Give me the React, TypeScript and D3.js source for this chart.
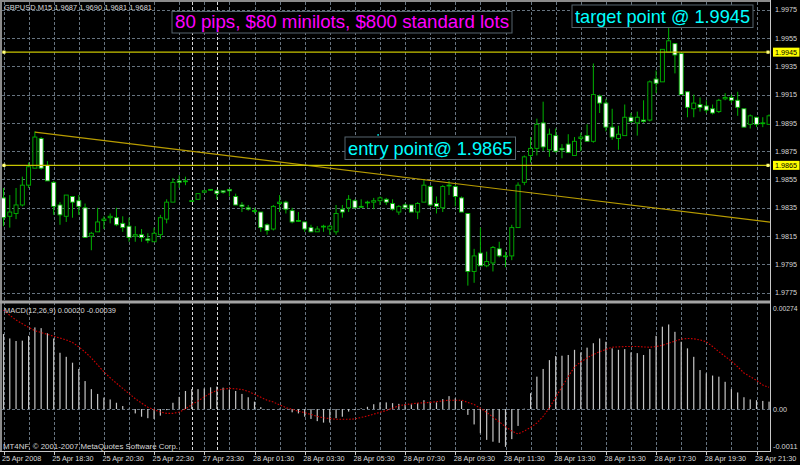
import React from 'react';
import * as d3 from 'd3';

// ---------- data ----------
const opens = [1.9842,1.9829,1.9831,1.9837,1.9851,1.9863,1.9884,1.9865,1.9853,1.9837,1.9829,1.9843,1.9840,1.9835,1.9815,1.9818,1.9826,1.9828,1.9828,1.9824,1.9822,1.9815,1.9816,1.9813,1.9811,1.9816,1.9827,1.9839,1.9854,1.9854,1.9840,1.9841,1.9846,1.9848,1.9847,1.9847,1.9848,1.9843,1.9837,1.9835,1.9833,1.9832,1.9823,1.9820,1.9838,1.9839,1.9833,1.9826,1.9825,1.9821,1.9818,1.9822,1.9820,1.9818,1.9834,1.9835,1.9840,1.9836,1.9839,1.9839,1.9840,1.9841,1.9838,1.9832,1.9837,1.9837,1.9832,1.9839,1.9850,1.9838,1.9835,1.9851,1.9850,1.9842,1.9831,1.9790,1.9803,1.9794,1.9796,1.9806,1.9801,1.9801,1.9821,1.9853,1.9872,1.9877,1.9895,1.9876,1.9886,1.9877,1.9880,1.9872,1.9884,1.9886,1.9882,1.9914,1.9909,1.9892,1.9884,1.9886,1.9899,1.9895,1.9897,1.9897,1.9926,1.9924,1.9945,1.9951,1.9944,1.9917,1.9905,1.9908,1.9907,1.9905,1.9903,1.9912,1.9913,1.9911,1.9905,1.9894,1.9899,1.9895,1.9894];
const highs = [1.9849,1.9844,1.9849,1.9857,1.9867,1.9889,1.9885,1.9868,1.9854,1.9839,1.9844,1.9843,1.9844,1.9838,1.9818,1.9835,1.9829,1.9831,1.9835,1.9829,1.9828,1.9822,1.9820,1.9817,1.9821,1.9830,1.9841,1.9856,1.9858,1.9857,1.9840,1.9845,1.9847,1.9848,1.9848,1.9847,1.9848,1.9845,1.9839,1.9837,1.9835,1.9832,1.9824,1.9837,1.9844,1.9840,1.9835,1.9832,1.9825,1.9823,1.9822,1.9823,1.9823,1.9837,1.9837,1.9844,1.9841,1.9841,1.9840,1.9842,1.9843,1.9842,1.9841,1.9837,1.9838,1.9837,1.9839,1.9855,1.9851,1.9843,1.9851,1.9854,1.9851,1.9843,1.9831,1.9806,1.9821,1.9804,1.9808,1.9811,1.9804,1.9823,1.9853,1.9872,1.9885,1.9898,1.9910,1.9891,1.9891,1.9880,1.9887,1.9885,1.9888,1.9894,1.9937,1.9915,1.9912,1.9905,1.9893,1.9908,1.9902,1.9903,1.9911,1.9925,1.9932,1.9947,1.9965,1.9951,1.9944,1.9917,1.9915,1.9913,1.9911,1.9908,1.9912,1.9916,1.9915,1.9917,1.9905,1.9901,1.9899,1.9899,1.9901];
const lows = [1.9822,1.9821,1.9827,1.9836,1.9849,1.9863,1.9862,1.9854,1.9830,1.9823,1.9825,1.9828,1.9830,1.9814,1.9805,1.9818,1.9820,1.9824,1.9822,1.9818,1.9811,1.9811,1.9811,1.9810,1.9811,1.9813,1.9824,1.9839,1.9849,1.9851,1.9840,1.9841,1.9846,1.9847,1.9841,1.9845,1.9843,1.9837,1.9832,1.9833,1.9831,1.9818,1.9816,1.9819,1.9832,1.9831,1.9824,1.9825,1.9818,1.9818,1.9818,1.9818,1.9816,1.9816,1.9828,1.9832,1.9835,1.9835,1.9835,1.9834,1.9837,1.9837,1.9833,1.9830,1.9834,1.9832,1.9827,1.9839,1.9836,1.9831,1.9832,1.9844,1.9836,1.9832,1.9780,1.9782,1.9794,1.9793,1.9790,1.9800,1.9793,1.9798,1.9821,1.9851,1.9867,1.9872,1.9875,1.9871,1.9874,1.9870,1.9874,1.9872,1.9875,1.9882,1.9881,1.9902,1.9889,1.9883,1.9876,1.9886,1.9895,1.9886,1.9895,1.9896,1.9916,1.9924,1.9945,1.9930,1.9915,1.9899,1.9899,1.9903,1.9902,1.9901,1.9902,1.9911,1.9909,1.9900,1.9892,1.9891,1.9892,1.9892,1.9894];
const closes = [1.9828,1.9832,1.9837,1.9851,1.9864,1.9885,1.9863,1.9854,1.9836,1.9830,1.9844,1.9839,1.9836,1.9814,1.9817,1.9825,1.9827,1.9829,1.9823,1.9821,1.9814,1.9816,1.9814,1.9812,1.9817,1.9828,1.9839,1.9853,1.9853,1.9854,1.9840,1.9845,1.9847,1.9848,1.9845,1.9846,1.9847,1.9837,1.9836,1.9834,1.9833,1.9821,1.9819,1.9836,1.9839,1.9834,1.9825,1.9826,1.9820,1.9818,1.9820,1.9822,1.9822,1.9831,1.9832,1.9841,1.9835,1.9836,1.9839,1.9840,1.9842,1.9839,1.9834,1.9836,1.9835,1.9832,1.9838,1.9851,1.9837,1.9836,1.9850,1.9851,1.9843,1.9832,1.9790,1.9801,1.9794,1.9797,1.9807,1.9801,1.9801,1.9821,1.9851,1.9871,1.9877,1.9894,1.9878,1.9887,1.9875,1.9876,1.9874,1.9882,1.9885,1.9882,1.9915,1.9909,1.9892,1.9885,1.9887,1.9899,1.9896,1.9899,1.9896,1.9924,1.9923,1.9947,1.9953,1.9943,1.9915,1.9906,1.9909,1.9906,1.9904,1.9902,1.9911,1.9913,1.9911,1.9906,1.9892,1.9900,1.9894,1.9895,1.9900];

// MACD main (histogram) and signal, in price units
const macdMain = [0.00204,0.00192,0.00185,0.00186,0.00199,0.00222,0.00220,0.00206,0.00192,0.00153,0.00142,0.00126,0.00109,0.00076,0.00054,0.00041,0.00031,0.00026,0.00017,0.00008,0.00001,-0.00012,-0.00021,-0.00025,-0.00027,-0.00018,-0.00003,0.00017,0.00033,0.00049,0.00054,0.00054,0.00056,0.00059,0.00061,0.00058,0.00052,0.00049,0.00041,0.00032,0.00020,0.00005,-0.00001,-0.00001,0.00001,0.00001,-0.00009,-0.00012,-0.00021,-0.00027,-0.00033,-0.00037,-0.00037,-0.00025,-0.00021,-0.00007,-0.00003,0.00002,0.00006,0.00013,0.00018,0.00018,0.00016,0.00014,0.00013,0.00013,0.00016,0.00024,0.00020,0.00018,0.00027,0.00035,0.00029,0.00022,-0.00016,-0.00042,-0.00066,-0.00084,-0.00089,-0.00092,-0.00103,-0.00082,-0.00046,0.00001,0.00043,0.00088,0.00109,0.00133,0.00144,0.00145,0.00147,0.00161,0.00154,0.00167,0.00179,0.00192,0.00183,0.00165,0.00161,0.00163,0.00154,0.00152,0.00147,0.00163,0.00199,0.00224,0.00230,0.00210,0.00183,0.00165,0.00142,0.00106,0.00097,0.00091,0.00088,0.00074,0.00054,0.00045,0.00032,0.00026,0.00024,0.00022,0.00020];
const macdSignal = [0.00269,0.00255,0.00242,0.00232,0.00222,0.00213,0.00208,0.00203,0.00198,0.00193,0.00188,0.00181,0.00169,0.00155,0.00139,0.00120,0.00101,0.00085,0.00070,0.00056,0.00042,0.00028,0.00016,0.00005,-0.00002,-0.00008,-0.00012,-0.00012,-0.00008,0.00000,0.00012,0.00022,0.00033,0.00043,0.00051,0.00054,0.00056,0.00055,0.00053,0.00048,0.00040,0.00032,0.00024,0.00019,0.00011,0.00004,-0.00001,-0.00006,-0.00010,-0.00015,-0.00020,-0.00024,-0.00026,-0.00028,-0.00028,-0.00028,-0.00027,-0.00023,-0.00019,-0.00014,-0.00009,-0.00004,0.00002,0.00009,0.00012,0.00014,0.00016,0.00017,0.00018,0.00020,0.00022,0.00024,0.00024,0.00024,0.00018,0.00012,0.00002,-0.00009,-0.00022,-0.00035,-0.00048,-0.00060,-0.00068,-0.00060,-0.00050,-0.00038,-0.00020,0.00003,0.00032,0.00060,0.00088,0.00115,0.00128,0.00139,0.00148,0.00156,0.00162,0.00168,0.00169,0.00170,0.00170,0.00170,0.00169,0.00168,0.00170,0.00173,0.00179,0.00185,0.00190,0.00192,0.00191,0.00188,0.00183,0.00170,0.00156,0.00143,0.00130,0.00115,0.00098,0.00088,0.00078,0.00065,0.00059];

const priceTicks = [1.9975,1.9955,1.9935,1.9915,1.9895,1.9875,1.9855,1.9835,1.9815,1.9795,1.9775];
const macdTicks = [0.00274, 0, -0.0011];
const macdTickLabels = ['0.00274', '0.00', '-0.0011'];
const timeLabels = ['25 Apr 2008','25 Apr 18:30','25 Apr 20:30','25 Apr 22:30','27 Apr 23:30','28 Apr 01:30','28 Apr 03:30','28 Apr 05:30','28 Apr 07:30','28 Apr 09:30','28 Apr 11:30','28 Apr 13:30','28 Apr 15:30','28 Apr 17:30','28 Apr 19:30','28 Apr 21:30'];
const timeLabelBars = [0,8,16,24,32,40,48,56,64,72,80,88,96,104,112,120];
const daySeparatorBars = [30, 34];
const entryPrice = 1.9865;
const targetPrice = 1.9945;
const trendBars = [5, 122];
const trendPrices = [1.98885, 1.9825];
const titleText = 'GBPUSD,M15  1.9687 1.9690 1.9681 1.9681';
const macdTitle = 'MACD(12,26,9) 0.00020 -0.00039';
const copyright = 'MT4NF, \u00a9 2001-2007 MetaQuotes Software Corp.';
const notes = [
  { text: '80 pips, $80 minilots, $800 standard lots', color: '#ff00ff', bar: 27.2, price: 1.99985, x0: 172, x1: 512, y0: 11.5, y1: 33 },
  { text: 'target point @ 1.9945', color: '#00ffff', bar: 93.4, price: 1.99855, x0: 572, x1: 753, y0: 5, y1: 27.5 },
  { text: 'entry point@ 1.9865', color: '#00ffff', bar: 59.7, price: 1.98865, x0: 345, x1: 515.5, y0: 137, y1: 159.5 },
];

const GREEN = '#00b400';
const GRID = '#66737f';
const LINE_Y = '#c8c400';
const FONT = "'Liberation Sans', Arial, sans-serif";

export default function App() {
  const n = opens.length;
  const x = d3.scaleLinear().domain([0, 122]).range([3.5, 3.5 + 6.275 * 122]);
  const y = d3.scaleLinear().domain([1.9775, 1.9975]).range([292.7, 9.7]);
  const ym = d3.scaleLinear().domain([0, 0.00274]).range([409, 308.3]);
  const RIGHT = 770;
  const gridBars = d3.range(0, n, 4);
  const signalLine = d3.line<number>().x((_, i) => x(i)).y(v => ym(v));

  return (
    <svg width={800} height={465} style={{ position: 'absolute', left: 0, top: 0, background: '#000' }} fontFamily={FONT}>
      <defs>
        <clipPath id="mainClip"><rect x={2} y={2} width={RIGHT - 2} height={298} /></clipPath>
        <clipPath id="macdClip"><rect x={2} y={304} width={RIGHT - 2} height={147} /></clipPath>
      </defs>
      <rect x={0} y={0} width={800} height={465} fill="#000" />

      {/* grid */}
      <g stroke={GRID} strokeWidth={1} strokeDasharray="3,2">
        {priceTicks.map(p => <line key={'h' + p} x1={2} x2={RIGHT} y1={Math.round(y(p)) + 0.5} y2={Math.round(y(p)) + 0.5} />)}
        {gridBars.map(b => <line key={'v' + b} x1={Math.round(x(b)) + 0.5} x2={Math.round(x(b)) + 0.5} y1={2} y2={451} />)}
        <line x1={2} x2={RIGHT} y1={Math.round(ym(0)) + 0.5} y2={Math.round(ym(0)) + 0.5} />
      </g>
      <g stroke="#d8d8d8" strokeWidth={1} strokeDasharray="3,2">
        {daySeparatorBars.map(b => <line key={'s' + b} x1={Math.round(x(b) - 0.1) + 0.5} x2={Math.round(x(b) - 0.1) + 0.5} y1={2} y2={451} />)}
      </g>

      {/* candles */}
      <g clipPath="url(#mainClip)">
        {opens.map((o, i) => {
          const c = closes[i];
          const top = y(Math.max(o, c));
          const bot = y(Math.min(o, c));
          const bull = c > o;
          const h = Math.max(bot - top, 0.8);
          return (
            <g key={'c' + i}>
              <line x1={x(i)} x2={x(i)} y1={y(highs[i])} y2={y(lows[i])} stroke={GREEN} strokeWidth={1} />
              <rect x={x(i) - 2} y={top} width={4} height={h} fill={bull ? '#000' : (c === o ? GREEN : '#ffffff')} stroke={GREEN} strokeWidth={0.9} />
            </g>
          );
        })}
        {(() => {
          const slope = (trendPrices[1] - trendPrices[0]) / (trendBars[1] - trendBars[0]);
          const endBar = 123;
          return <line x1={x(trendBars[0])} y1={y(trendPrices[0])} x2={x(endBar)} y2={y(trendPrices[0] + slope * (endBar - trendBars[0]))} stroke="#b89c00" strokeWidth={1.2} />;
        })()}
        {[targetPrice, entryPrice].map(p => (
          <g key={'hl' + p}>
            <line x1={2} x2={RIGHT} y1={y(p)} y2={y(p)} stroke={LINE_Y} strokeWidth={1.2} />
            <rect x={2.5} y={y(p) - 1.6} width={3} height={3.2} fill="#ffff80" />
            <rect x={RIGHT - 3.5} y={y(p) - 1.6} width={3} height={3.2} fill="#ffff80" />
          </g>
        ))}
      </g>

      {/* text notes */}
      {notes.map(nt => (
        <g key={nt.text}>
          <rect x={nt.x0} y={nt.y0} width={nt.x1 - nt.x0} height={nt.y1 - nt.y0} fill="#000" stroke="#56656e" strokeWidth={1} />
          <text x={(nt.x0 + nt.x1) / 2} y={nt.y1 - 5} textAnchor="middle" fill={nt.color} fontSize={19} textLength={nt.x1 - nt.x0 - 6} lengthAdjust="spacingAndGlyphs">{nt.text}</text>
          <rect x={x(nt.bar) - 0.75} y={y(nt.price) - 0.75} width={1.5} height={1.5} fill={nt.color} />
        </g>
      ))}

      {/* MACD */}
      <g clipPath="url(#macdClip)">
        {macdMain.map((v, i) => (
          <rect key={'m' + i} x={x(i) - 0.6} y={Math.min(ym(v), ym(0))} width={1.2} height={Math.abs(ym(v) - ym(0))} fill="#c4c4c4" />
        ))}
        <path d={signalLine(macdSignal) || ''} fill="none" stroke="#d00000" strokeWidth={1.1} strokeDasharray="1.6,1.6" />
      </g>

      {/* frame */}
      <line x1={0} x2={RIGHT} y1={1} y2={1} stroke="#8a8a8a" strokeWidth={2} />
      <line x1={1} x2={1} y1={0} y2={452} stroke="#8a8a8a" strokeWidth={2} />
      <line x1={RIGHT + 0.5} x2={RIGHT + 0.5} y1={0} y2={452} stroke="#c8c8c8" strokeWidth={1} />
      <rect x={0} y={300.5} width={RIGHT} height={3} fill="#a4a4a4" />
      <line x1={0} x2={RIGHT} y1={451.5} y2={451.5} stroke="#c8c8c8" strokeWidth={1} />

      {/* small texts */}
      <g fill="#d8d8d8">
        <text x={4} y={10} fontSize={7.3} textLength={148} lengthAdjust="spacingAndGlyphs">{titleText}</text>
        <text x={4} y={312.5} fontSize={7.3} textLength={112} lengthAdjust="spacingAndGlyphs">{macdTitle}</text>
        <text x={3} y={449} fontSize={7.3} textLength={175} lengthAdjust="spacingAndGlyphs">{copyright}</text>

        <g fontSize={7.2}>
          {priceTicks.map(p => <text key={'pt' + p} x={775} y={y(p) + 2.6}>{p.toFixed(4)}</text>)}
          {macdTicks.map((v, i) => <text key={'mt' + i} x={773} y={Math.min(ym(v), 446.5) + 2.6} textLength={i === 1 ? undefined : 24.5} lengthAdjust="spacingAndGlyphs">{macdTickLabels[i]}</text>)}
        </g>
        {[targetPrice, entryPrice].map(p => (
          <g key={'lbl' + p}>
            <rect x={773} y={y(p) - 4.5} width={26.5} height={9} fill="#ffff00" />
            <text x={775} y={y(p) + 2.6} fill="#000" fontSize={7.2}>{p.toFixed(4)}</text>
          </g>
        ))}

        <g fontSize={7.3}>
          {timeLabelBars.map((b, i) => (
            <g key={'tl' + b}>
              <line x1={Math.round(x(b)) + 0.5} x2={Math.round(x(b)) + 0.5} y1={451} y2={455} stroke="#c8c8c8" />
              <text x={x(b) - 1.5} y={461}>{timeLabels[i]}</text>
            </g>
          ))}
        </g>
      </g>
    </svg>
  );
}
